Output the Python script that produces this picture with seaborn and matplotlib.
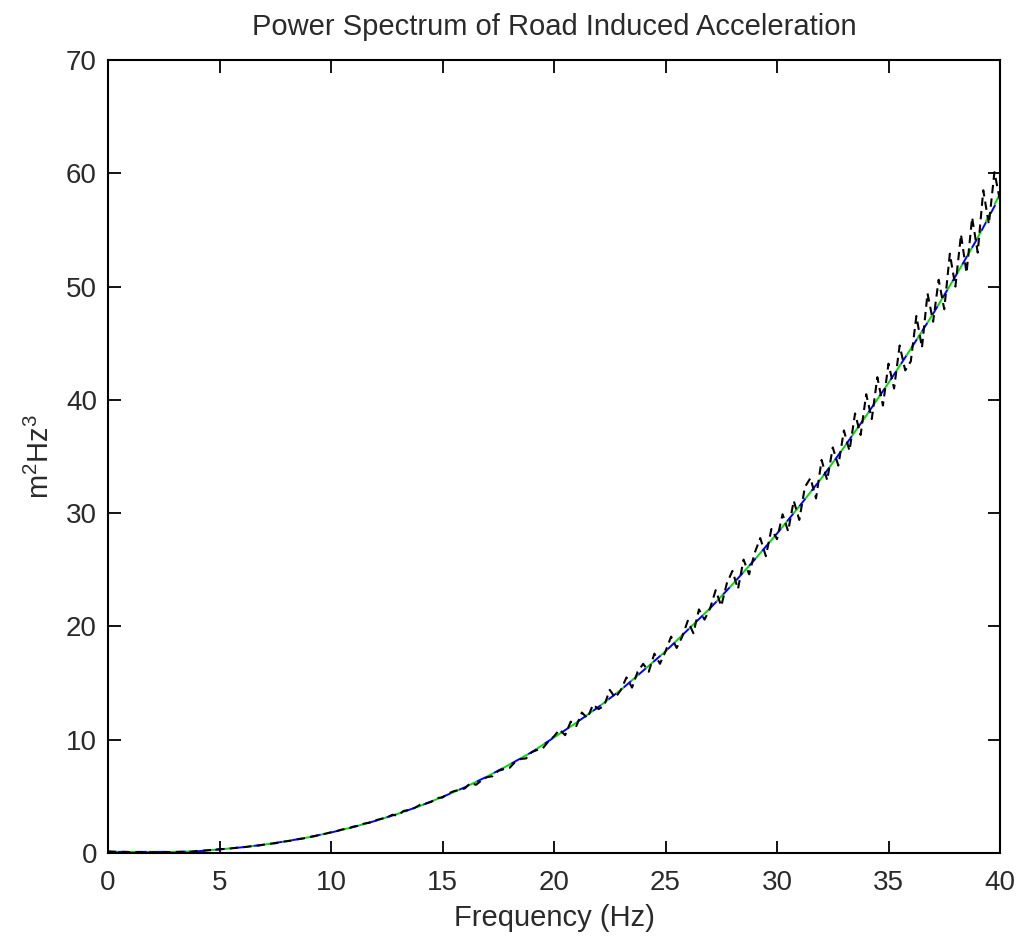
import numpy as np
import pandas as pd
import matplotlib
matplotlib.use("Agg")
import matplotlib.pyplot as plt
import seaborn as sns

# ---------------- data ----------------
title = "Power Spectrum of Road Induced Acceleration"
xlabel = "Frequency (Hz)"
ylabel = "m$^2$Hz$^3$"
xticks = [0, 5, 10, 15, 20, 25, 30, 35, 40]
yticks = [0, 10, 20, 30, 40, 50, 60, 70]

# measured (noisy) spectrum, 0.25 Hz spacing
freq_meas = np.arange(0, 40.001, 0.25)
psd_meas_0_10 = [0.15, 0.12, 0.10, 0.10, 0.08, 0.08, 0.07, 0.07, 0.07, 0.08, 0.08, 0.08, 0.09, 0.10, 0.10, 0.12,
                 0.18, 0.20, 0.25, 0.28, 0.33, 0.36, 0.40, 0.46, 0.50, 0.55, 0.62, 0.66, 0.74, 0.81, 0.86, 0.95,
                 1.04, 1.10, 1.21, 1.28, 1.40, 1.48, 1.61, 1.70, 1.83]
psd_meas_10_20 = [1.93, 2.08, 2.15, 2.33, 2.41, 2.60, 2.69, 2.88, 3.02, 3.12,
                  3.38, 3.30, 3.71, 3.80, 3.98, 4.26, 4.36, 4.52, 4.85, 4.90,
                  5.24, 5.45, 5.58, 5.70, 6.18, 6.02, 6.40, 6.70, 6.78, 7.25,
                  7.40, 7.50, 8.02, 8.30, 8.35, 8.90, 9.10, 9.25, 9.85, 10.30]
psd_meas_20_30 = [10.9, 10.4, 11.6, 11.2, 12.4, 11.9, 13.1, 12.7, 13.0, 14.4,
                  13.7, 14.4, 15.5, 14.6, 16.0, 16.7, 16.0, 17.6, 16.7, 17.8,
                  19.1, 18.1, 19.1, 20.5, 19.4, 21.5, 20.6, 21.6, 23.2, 21.8,
                  23.8, 24.9, 23.3, 25.9, 24.6, 26.5, 27.8, 26.2, 28.6, 27.7]
psd_meas_30_40 = [29.9, 28.4, 31.1, 29.4, 32.3, 33.1, 31.3, 34.7, 32.9, 35.8,
                  34.2, 37.3, 35.5, 38.8, 36.9, 40.5, 38.3, 42.0, 39.5, 43.2,
                  41.0, 44.8, 42.6, 43.4, 47.4, 44.6, 49.4, 46.9, 50.6, 48.0,
                  52.9, 50.0, 54.6, 51.2, 56.1, 53.0, 58.5, 55.5, 60.1, 57.6]
psd_meas = psd_meas_0_10 + psd_meas_10_20 + psd_meas_20_30 + psd_meas_30_40

# smooth model curves, 1 Hz spacing
freq_fit = list(range(0, 41))
psd_fit_blue = [0.10, 0.10, 0.10, 0.10, 0.15, 0.32, 0.50, 0.74, 1.04, 1.39, 1.81,
                2.29, 2.84, 3.46, 4.16, 4.95, 5.80, 6.75, 7.80, 8.90, 10.2,
                11.5, 12.9, 14.4, 16.1, 17.8, 19.7, 21.6, 23.7, 25.9, 28.2,
                30.6, 33.1, 35.8, 38.6, 41.5, 44.5, 47.6, 50.9, 54.3, 58.0]
psd_fit_green = [0.10, 0.10, 0.10, 0.10, 0.15, 0.32, 0.50, 0.74, 1.04, 1.39, 1.81,
                 2.29, 2.84, 3.46, 4.16, 4.95, 5.80, 6.75, 7.80, 8.90, 10.2,
                 11.5, 12.9, 14.4, 16.1, 17.8, 19.7, 21.6, 23.7, 25.9, 28.2,
                 30.6, 33.1, 35.8, 38.6, 41.5, 44.5, 47.6, 50.9, 54.3, 58.2]

df_meas = pd.DataFrame({"f": freq_meas, "p": psd_meas})
df_fit = pd.DataFrame({"f": freq_fit, "blue": psd_fit_blue, "green": psd_fit_green})

# ---------------- plot ----------------
sns.set_theme(style="white")
plt.rcParams["font.family"] = ["Liberation Sans", "DejaVu Sans"]
plt.rcParams["mathtext.default"] = "regular"
text_color = "#2a2a2a"

fig = plt.figure(figsize=(10.18, 9.36), dpi=100)
ax = fig.add_axes([108 / 1018, 1 - 853 / 936, (1000 - 108) / 1018, (853 - 60) / 936])

sns.lineplot(data=df_fit, x="f", y="green", ax=ax, color="#00dd00", linewidth=1.4,
             linestyle=(0, (5, 5)), estimator=None)
sns.lineplot(data=df_fit, x="f", y="blue", ax=ax, color="#0000ff", linewidth=1.4,
             linestyle=(5, (5, 5)), estimator=None)
sns.lineplot(data=df_meas, x="f", y="p", ax=ax, color="black", linewidth=1.5,
             linestyle=(0, (4, 2.5)), estimator=None)

ax.set_xlim(0, 40)
ax.set_ylim(0, 70)
ax.set_xticks(xticks)
ax.set_yticks(yticks)
ax.set_xticklabels([str(t) for t in xticks])
ax.set_yticklabels([str(t) for t in yticks])

for s in ax.spines.values():
    s.set_visible(True)
    s.set_color("black")
    s.set_linewidth(1.5)

ax.tick_params(axis="both", which="major", direction="in", length=9, width=1.3,
               top=True, right=True, bottom=True, left=True,
               labelsize=20, labelcolor=text_color, color="black")
ax.tick_params(axis="x", pad=12)
ax.tick_params(axis="y", pad=8)

ax.set_title(title, fontsize=21, color=text_color, pad=18)
ax.set_xlabel(xlabel, fontsize=21, color=text_color, labelpad=6)
ax.set_ylabel(ylabel, fontsize=21, color=text_color, labelpad=8)
ax.grid(False)

fig.savefig("out.png", dpi=100, facecolor="white")
